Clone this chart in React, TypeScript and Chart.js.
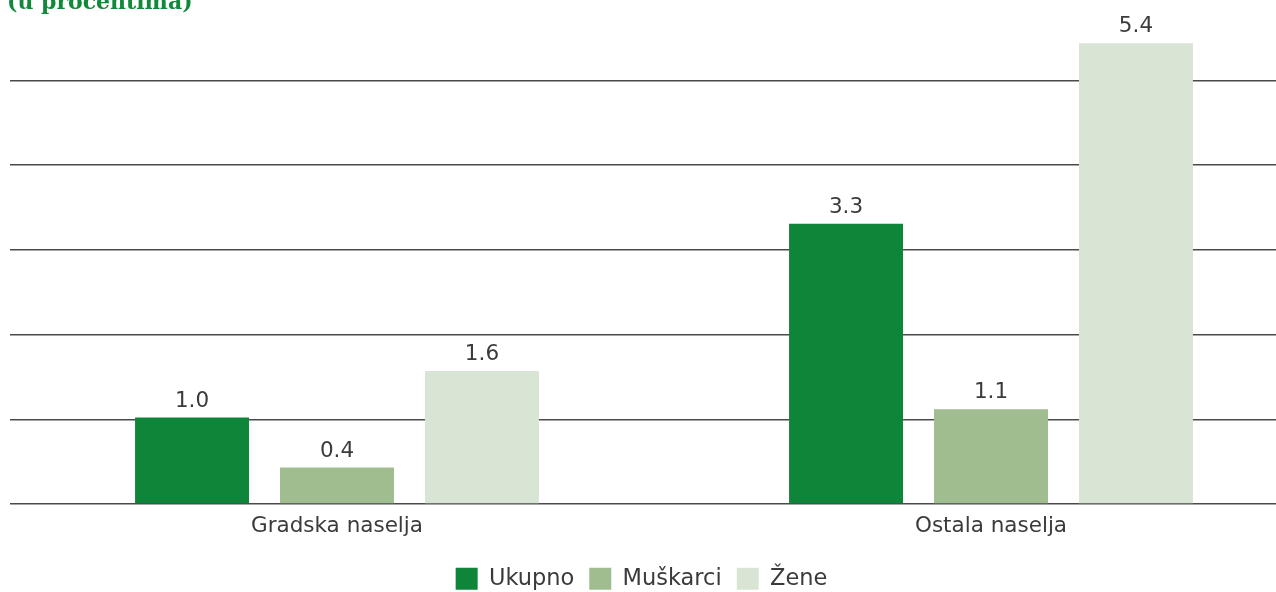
import React, { useEffect, useRef } from "react";
import { Chart, registerables } from "chart.js";

Chart.register(...registerables);

const categories = ["Gradska naselja", "Ostala naselja"];
const seriesNames = ["Ukupno", "Muškarci", "Žene"];
const ukupno = [1.02, 3.31];
const muskarci = [0.43, 1.12];
const zene = [1.57, 5.44];
const yTicks = [0, 1, 2, 3, 4, 5];
const seriesColors = ["#0e8538", "#9fbd8f", "#d9e5d4"];
const titleText = "(u procentima)";

const TEXT_COLOR = "#3b3b3b";
const FONT = "'DejaVu Sans', sans-serif";

const valueLabels = {
  id: "valueLabels",
  afterDatasetsDraw(chart: any) {
    const ctx = chart.ctx;
    ctx.save();
    ctx.font = `21.5px ${FONT}`;
    ctx.fillStyle = TEXT_COLOR;
    ctx.textAlign = "center";
    ctx.textBaseline = "alphabetic";
    chart.data.datasets.forEach((ds: any, di: number) => {
      const meta = chart.getDatasetMeta(di);
      meta.data.forEach((el: any, i: number) => {
        const v = ds.data[i] as number;
        ctx.fillText(v.toFixed(1), el.x, el.y - 11);
      });
    });
    ctx.restore();
  },
};

// The source picture is cropped on the right: the x axis continues past the canvas edge.
const extendX = {
  id: "extendX",
  afterLayout(chart: any) {
    const s = chart.scales.x;
    const extra = 42;
    s.right = s.right + extra;
    s.width = s.width + extra;
    s.configure();
    s._labelItems = null;
    s._gridLineItems = null;
  },
};

export default function App() {
  const ref = useRef<HTMLCanvasElement>(null);

  useEffect(() => {
    const chart = new Chart(ref.current!, {
      type: "bar",
      data: {
        labels: categories,
        datasets: [
          { label: seriesNames[0], data: ukupno, backgroundColor: seriesColors[0] },
          { label: seriesNames[1], data: muskarci, backgroundColor: seriesColors[1] },
          { label: seriesNames[2], data: zene, backgroundColor: seriesColors[2] },
        ],
      },
      options: {
        animation: false,
        responsive: true,
        maintainAspectRatio: false,
        layout: { padding: { left: 7, right: 0, top: 0, bottom: 0 } },
        datasets: {
          bar: { categoryPercentage: 0.665, barPercentage: 0.786 },
        },
        scales: {
          x: {
            grid: { display: false, drawTicks: false },
            border: { display: false },
            ticks: {
              padding: 10,
              color: TEXT_COLOR,
              font: { family: FONT, size: 21.5 },
            },
            afterFit(s: any) {
              s.height = 48.5;
            },
          },
          y: {
            min: 0,
            max: 5.5,
            ticks: { display: false },
            border: { display: false },
            grid: { color: "#4a4a4a", lineWidth: 1.5, drawTicks: false },
            afterBuildTicks(s: any) {
              s.ticks = yTicks.map((v) => ({ value: v }));
            },
            afterFit(s: any) {
              s.width = 3;
            },
          },
        },
        plugins: {
          title: {
            display: true,
            text: titleText,
            align: "start",
            color: "#12893a",
            font: { family: "'DejaVu Serif', serif", size: 22, weight: "bold" },
            padding: { top: 10.3, bottom: 21.5 },
          },
          legend: {
            position: "bottom",
            labels: {
              boxWidth: 22,
              boxHeight: 22,
              padding: 15,
              color: TEXT_COLOR,
              font: { family: FONT, size: 22.5 },
            },
          },
          tooltip: { enabled: false },
        },
      },
      plugins: [valueLabels, extendX],
    });
    return () => chart.destroy();
  }, []);

  return (
    <div
      style={{
        position: "fixed",
        left: 0,
        top: 0,
        width: 1276,
        height: 592,
        overflow: "hidden",
        background: "#fff",
      }}
    >
      <div style={{ position: "absolute", left: 0, top: -20, width: 1276, height: 620 }}>
        <canvas ref={ref} />
      </div>
    </div>
  );
}
